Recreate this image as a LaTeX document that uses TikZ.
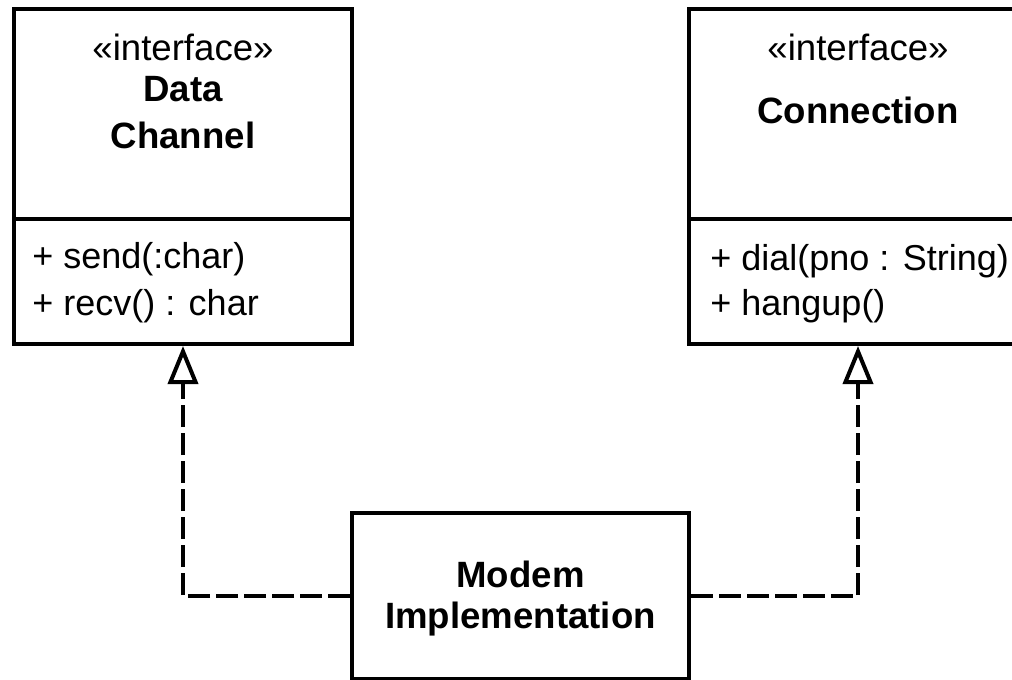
\documentclass[tikz,border=0pt]{standalone}
\usepackage{fontspec}
\setmainfont{Liberation Sans}
\usetikzlibrary{positioning,arrows.meta}
\tikzset{
	classpart/.style={draw, line width=2pt, minimum width=169pt, inner sep=0pt}, % one compartment of a class box
	uml/.style={anchor=base, inner sep=0pt, font=\fontsize{18.3}{22}\selectfont}, % centred text of a box
	umlname/.style={uml, font=\fontsize{18.3}{22}\selectfont\bfseries}, % class names are bold
	member/.style={anchor=base west, inner sep=0pt, font=\fontsize{18}{22}\selectfont}, % operations, left aligned
	realize/.style={line width=2pt, dash pattern=on 11pt off 3pt, -{Triangle[open,length=19pt,width=15pt]}}, % realization arrow
}

\begin{document}
\begin{tikzpicture}[x=0.5pt,y=-0.5pt]
	\useasboundingbox (0,0) rectangle (1012,680);
	\clip (0,0) rectangle (1012,680);
	
	% Data Channel
	\node[classpart, minimum height=105pt] (dc) at (183,114) {};
	\node[classpart, minimum height=62.5pt, below=-2pt of dc] (dcops) {};
	\node[uml] (dcstereo) at (183,61) {«interface»};
	\node[umlname] (dcname) at (183,101) {Data};
	\node[umlname] (dcname2) at (183,148) {Channel};
	\node[member] (send) at (32,268) {+ send(:char)};
	\node[member] (recv) at (32,315) {+ recv() : char};
	
	% Connection
	\node[classpart, minimum height=105pt] (cn) at (858,114) {};
	\node[classpart, minimum height=62.5pt, below=-2pt of cn] (cnops) {};
	\node[uml] (cnstereo) at (858,61) {«interface»};
	\node[umlname] (cnname) at (858,123) {Connection};
	\node[member] (dial) at (710,270) {+ dial(pno : String)};
	\node[member] (hangup) at (710,315) {+ hangup()};
	
	% Modem Implementation
	\node[classpart, minimum width=168.5pt, minimum height=83pt] (modem) at (520.5,596) {};
	\node[umlname] (modemname) at (520.5,587) {Modem};
	\node[umlname] (modemname2) at (520.5,628) {Implementation};
	
	\draw[realize] (modem.west) -| (dcops.south);
	\draw[realize] (modem.east) -| (cnops.south);
\end{tikzpicture}
\end{document}
